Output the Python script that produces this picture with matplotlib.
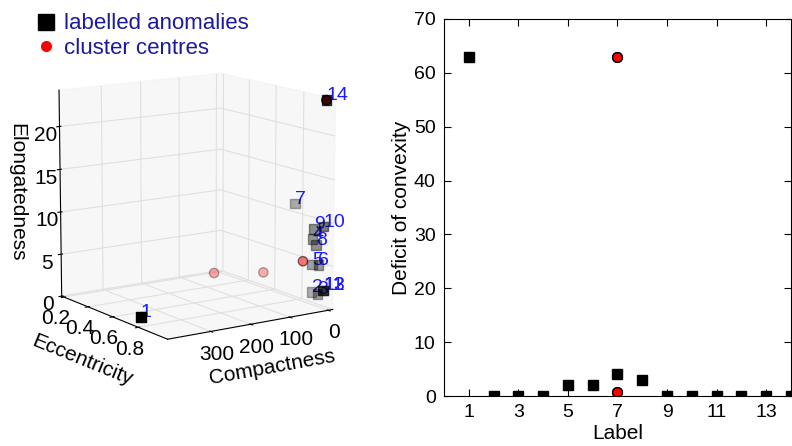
import matplotlib
matplotlib.use("Agg")
import matplotlib.pyplot as plt
from matplotlib.lines import Line2D
from mpl_toolkits.mplot3d import Axes3D, proj3d  # noqa

plt.rcParams['font.family'] = ['Liberation Sans', 'DejaVu Sans']

# ---- data ----
labels = [1, 2, 3, 4, 5, 6, 7, 8, 9, 10, 11, 12, 13, 14]
compactness = [405, 10, 6, 10, 10, 5, 20, 8, 10, 3, 3, 3, 3, 0]
eccentricity = [0.82, 0.93, 0.96, 0.93, 0.93, 0.96, 0.83, 0.95, 0.94, 0.99, 0.99, 0.99, 0.99, 0.99]
elongatedness = [1.3, 1.7, 1.6, 7.9, 4.9, 5.0, 11.6, 7.3, 9.1, 9.6, 2.2, 2.2, 2.2, 24.0]
deficit = [63, 0, 0, 0, 2, 2, 4, 3, 0, 0, 0, 0, 0, 0]

centre_compactness = [142, 51, 12, 0]
centre_eccentricity = [0.58, 0.69, 0.87, 0.99]
centre_elongatedness = [3.0, 3.0, 5.0, 24.0]
centre_label = [7, 7, 7, 7]
centre_deficit = [63, 0.8, 0.8, 63]

xticks_right = [1, 3, 5, 7, 9, 11, 13]
yticks_right = [0, 10, 20, 30, 40, 50, 60, 70]

label_blue = '#1a1aff'
legend_blue = '#1a1a9c'

fig = plt.figure(figsize=(7.92, 4.46), dpi=100)

# ---- 3D panel ----
ax3 = fig.add_axes([-0.05, 0.08, 0.58, 0.92], projection='3d')
ax3.view_init(elev=12, azim=56)
ax3.set_box_aspect((1, 1, 1.08), zoom=0.83)
ax3.scatter(compactness, eccentricity, elongatedness, marker='s', c='k', s=45,
            depthshade=True)
ax3.scatter(centre_compactness, centre_eccentricity, centre_elongatedness, marker='o',
            c='red', edgecolors='k', s=45, depthshade=True)
ax3.set_xlim(-12, 405)
ax3.set_ylim(0.18, 1.02)
ax3.set_zlim(0, 24.2)
ax3.set_xticks([0, 100, 200, 300])
ax3.set_yticks([0.2, 0.4, 0.6, 0.8])
ax3.set_zticks([0, 5, 10, 15, 20])
ax3.tick_params(labelsize=15, pad=0)
ax3.set_xlabel('Compactness', fontsize=15, labelpad=5)
ax3.set_ylabel('Eccentricity', fontsize=15, labelpad=7)
ax3.zaxis.set_rotate_label(False)
ax3.set_zlabel('Elongatedness', fontsize=15, labelpad=4, rotation=-90)
for axis in (ax3.xaxis, ax3.yaxis, ax3.zaxis):
    axis.set_pane_color((0.95, 0.95, 0.95, 0.6))
    axis._axinfo['grid']['color'] = (0.88, 0.88, 0.88, 1)
    axis._axinfo['grid']['linewidth'] = 0.8

# point labels: project the 3D points with the axes' own projection
fig.canvas.draw()
M = ax3.get_proj()
px, py, _ = proj3d.proj_transform(compactness, eccentricity, elongatedness, M)
for x2, y2, lab in zip(px, py, labels):
    ax3.text2D(x2, y2, str(lab), transform=ax3.transData, color=label_blue,
               fontsize=14)

handles = [Line2D([], [], marker='s', color='k', linestyle='none', markersize=12),
           Line2D([], [], marker='o', color='red', linestyle='none', markersize=7)]
fig.legend(handles, ['labelled anomalies', 'cluster centres'], loc='upper left',
           bbox_to_anchor=(0.025, 1.005), frameon=False, fontsize=16,
           labelcolor=legend_blue, handletextpad=0.3, borderaxespad=0.3,
           labelspacing=0.15, handlelength=1.0)

# ---- 2D panel ----
ax = fig.add_axes([0.5606, 0.1121, 0.4381, 0.8453])
ax.plot(labels, deficit, 's', color='k', markersize=7.5)
ax.plot(centre_label, centre_deficit, 'o', markerfacecolor='red',
        markeredgecolor='k', markersize=7)
ax.set_xlim(0, 14)
ax.set_ylim(0, 70)
ax.set_xticks(xticks_right)
ax.set_yticks(yticks_right)
ax.tick_params(direction='in', top=True, right=True, length=5, labelsize=14, pad=6)
ax.set_xlabel('Label', fontsize=15, labelpad=2)
ax.set_ylabel('Deficit of convexity', fontsize=15, labelpad=2)

fig.savefig('out.png', dpi=100)
